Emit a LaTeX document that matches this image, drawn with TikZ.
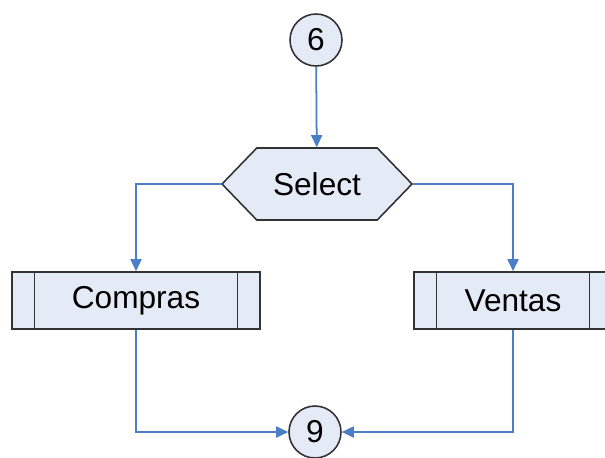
\documentclass[tikz,border=0pt]{standalone}
\usepackage{fontspec}
\setmainfont{Liberation Sans}
\usepackage{tikz}
\usetikzlibrary{positioning, arrows.meta, shapes.symbols}
\definecolor{flowBlue}{HTML}{4A7EC6}
\definecolor{flowFill}{HTML}{E5EBF6}
\definecolor{flowEdge}{HTML}{333333}

\begin{document}
\begin{tikzpicture}[
    >={Triangle[length=0.24cm, width=0.22cm]},
    conn/.style={draw=flowEdge, fill=flowFill, circle, line width=0.9pt,
                 minimum size=1.04cm, inner sep=0pt, font=\fontsize{18}{20}\selectfont},
    choice/.style={draw=flowEdge, fill=flowFill, signal, signal to=west and east,
                   signal pointer angle=92, line width=0.9pt, minimum width=3.8cm,
                   minimum height=1.44cm, inner sep=0pt, font=\fontsize{18}{20}\selectfont},
    subproc/.style={draw=flowEdge, fill=flowFill, rectangle, line width=0.9pt,
                    minimum width=4.96cm, minimum height=1.14cm,
                    font=\fontsize{18}{20}\selectfont,
                    path picture={
                      \draw[flowEdge, line width=0.9pt]
                        ([xshift=0.45cm]path picture bounding box.north west) --
                        ([xshift=0.45cm]path picture bounding box.south west)
                        ([xshift=-0.45cm]path picture bounding box.north east) --
                        ([xshift=-0.45cm]path picture bounding box.south east);}},
    flow/.style={->, line width=1pt, flowBlue}
]
\useasboundingbox (0,0) rectangle (12.1,9.14);
\clip (0,0) rectangle (12.1,9.14);

\node[conn] (c6) at (6.32,8.34) {6};
\node[choice] (sel) at (6.34,5.46) {Select};
\node[subproc] (comp) at (2.72,3.13) {Compras};
\node[subproc, minimum width=3.96cm] (vent) at (10.26,3.13) {Ventas};
\node[conn] (c9) at (6.30,0.50) {9};

% ---- branches ----
\draw[flow] (c6) -- (sel);
\draw[flow] (sel.west) -| (comp.north);
\draw[flow] (sel.east) -| (vent.north);

% ---- merge ----
\draw[flow] (comp.south) |- (c9.west);
\draw[flow] (vent.south) |- (c9.east);
\end{tikzpicture}
\end{document}
